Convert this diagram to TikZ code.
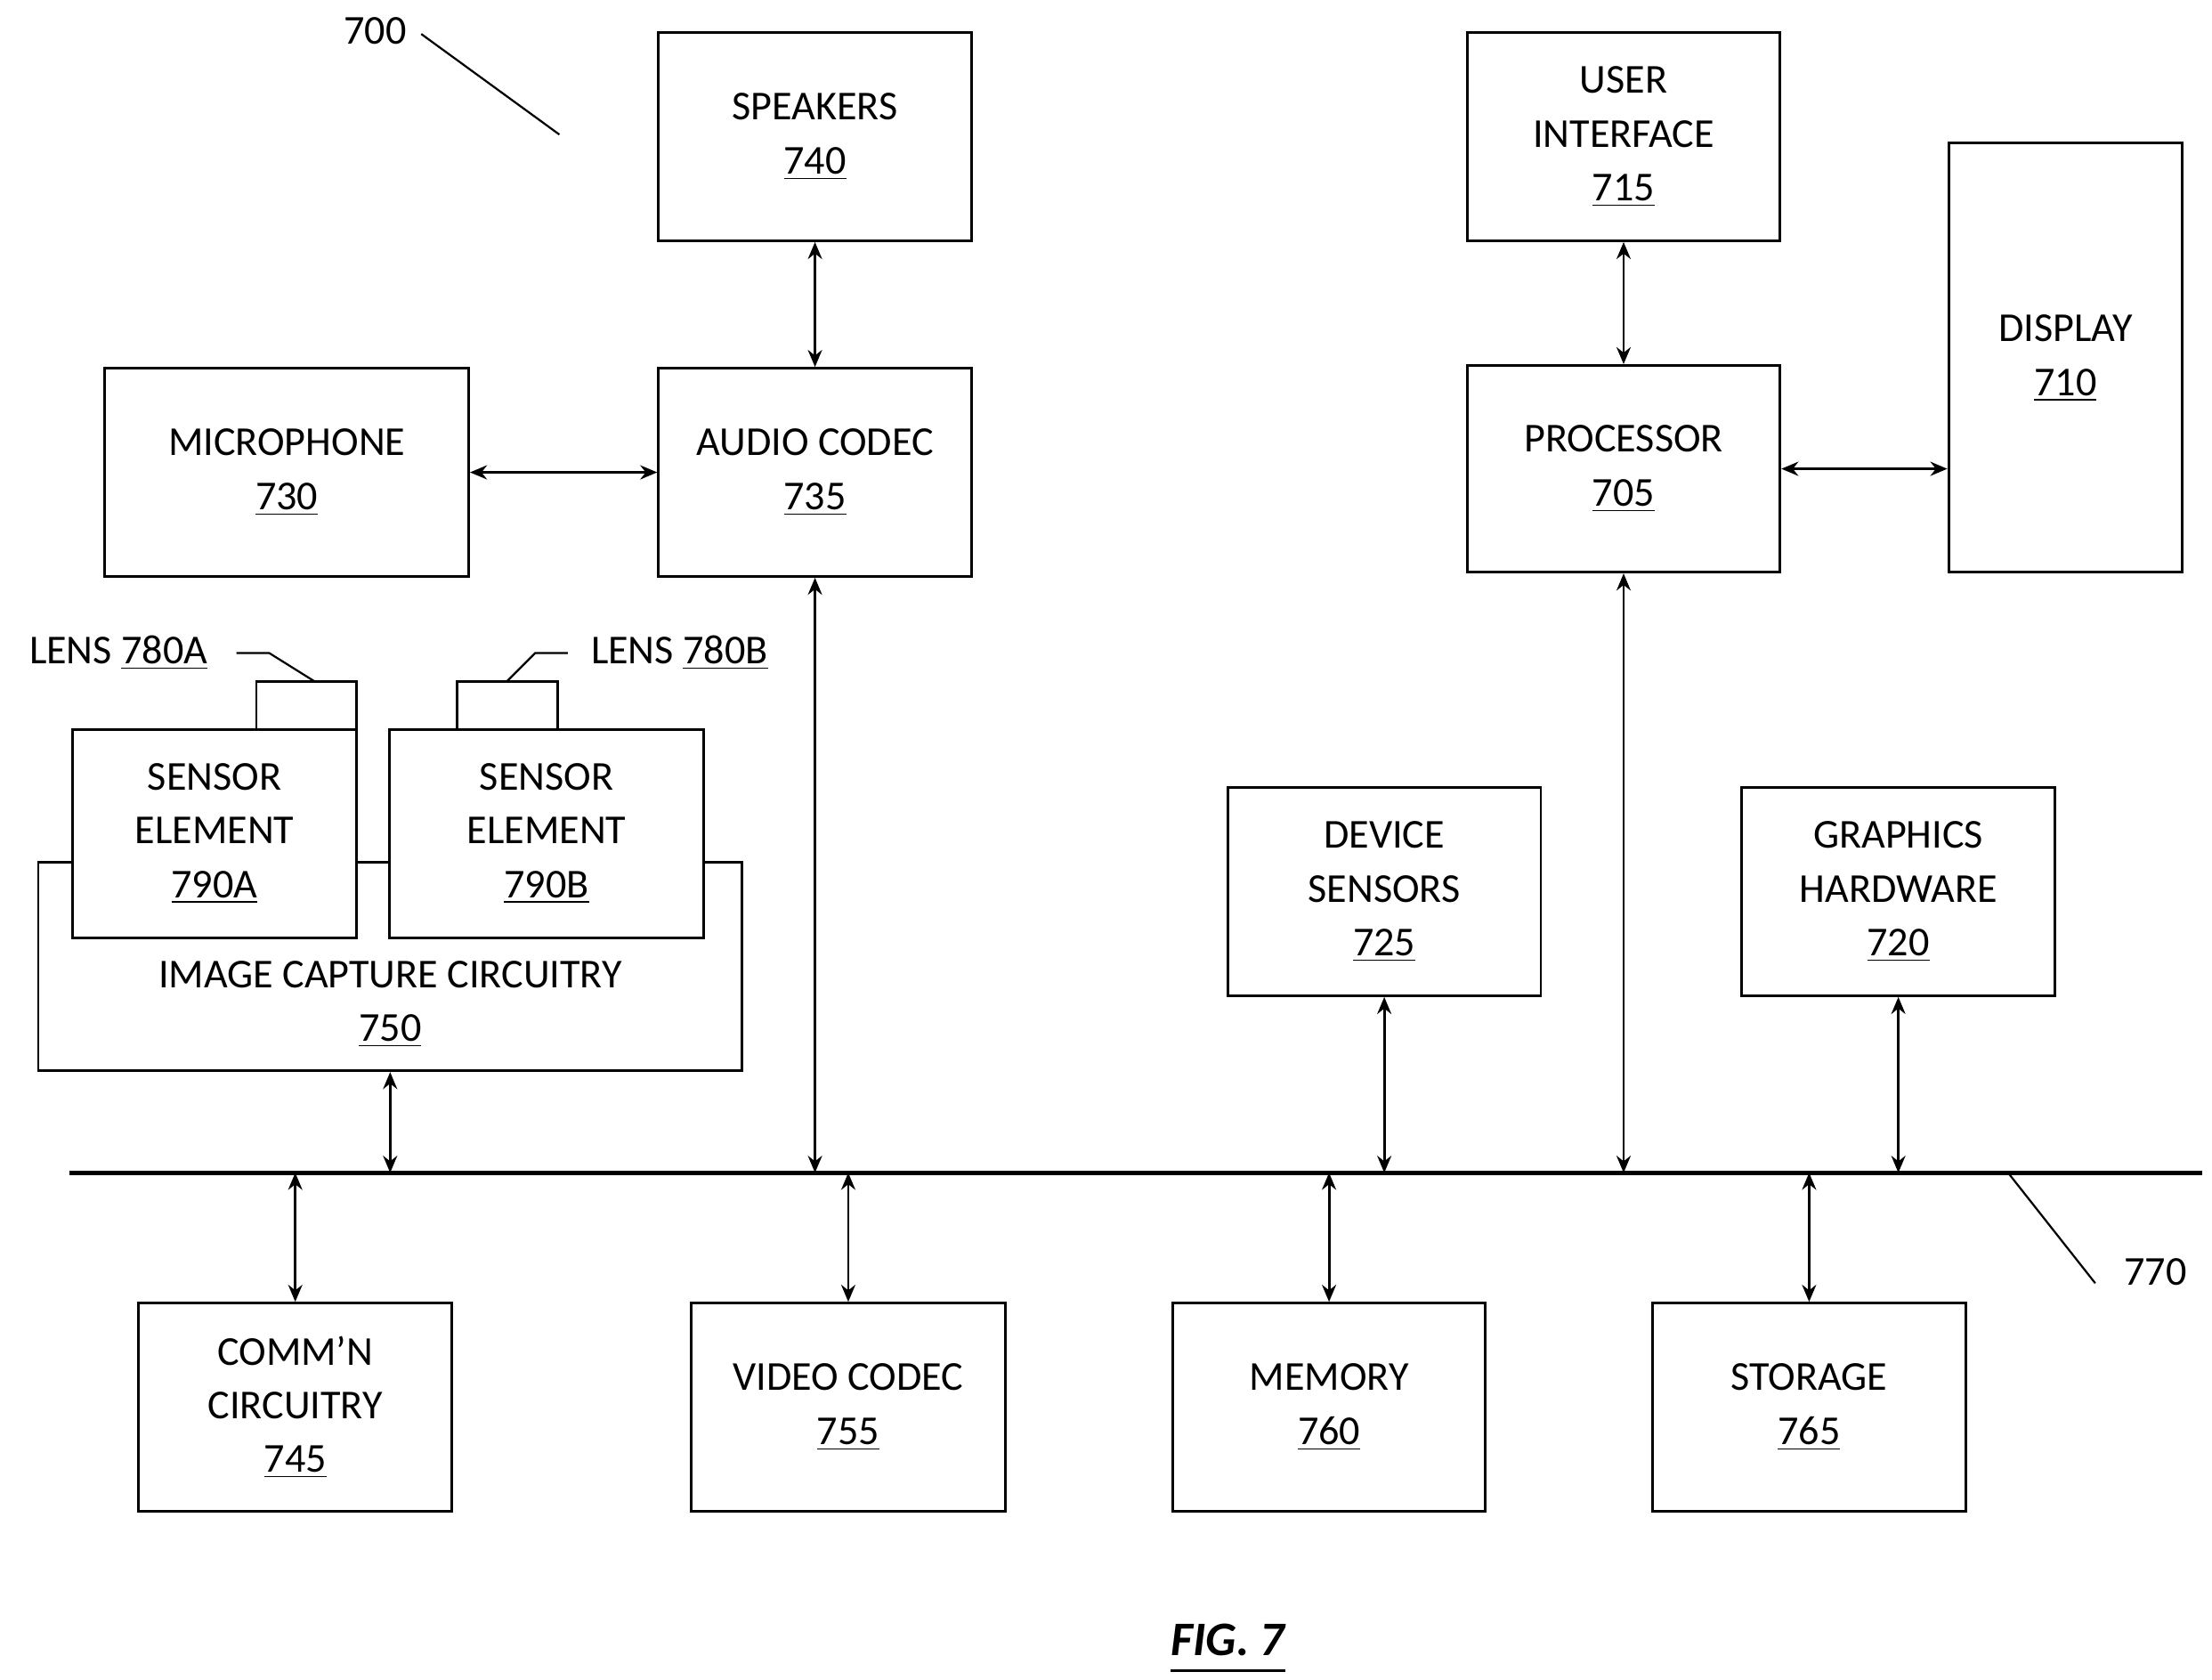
\documentclass[tikz,border=0pt]{standalone}
\usepackage{fontspec}
\setmainfont{Carlito}
\usetikzlibrary{arrows.meta}
\begin{document}
\begin{tikzpicture}[x=0.5pt,y=-0.5pt,
  box/.style={draw,line width=0.9pt,align=center,font=\fontsize{14.5pt}{19pt}\selectfont,inner sep=0pt},
  lab/.style={font=\fontsize{14.5pt}{19pt}\selectfont,inner sep=0pt},
  con/.style={line width=0.9pt,{Stealth[length=6pt,width=5pt]}-{Stealth[length=6pt,width=5pt]}},
  lead/.style={line width=0.7pt}]
\useasboundingbox (0,0) rectangle (1562,1186);
\newcommand{\bx}[6]{\node[box,minimum width=#4*0.5pt-#2*0.5pt,minimum height=#5*0.5pt-#3*0.5pt] (#1) at ({(#2+#4)/2},{(#3+#5)/2}) {#6};}
% image capture outer
\node[box,minimum width=248.5pt,minimum height=73.5pt,fill=white] (img) at (275.5,682.5) {};
\node[lab,align=center] (imgt) at (275.5,709) {IMAGE CAPTURE CIRCUITRY\\\underline{750}};
\bx{lensa}{181}{481}{252}{515}{}
\bx{lensb}{323}{481}{394}{515}{}
\node[box,fill=white,minimum width=100.5pt,minimum height=73.5pt] (sa) at (151.5,588.5) {SENSOR\\ELEMENT\\\underline{790A}};
\node[box,fill=white,minimum width=111pt,minimum height=73.5pt] (sb) at (386,588.5) {SENSOR\\ELEMENT\\\underline{790B}};
\bx{spk}{465}{23}{686}{170}{SPEAKERS\\\underline{740}}
\bx{ui}{1036}{23}{1257}{170}{USER\\INTERFACE\\\underline{715}}
\bx{disp}{1376}{101}{1541}{404}{}
\node[lab,align=center] (dispt) at (1458.5,253) {DISPLAY\\\underline{710}};
\bx{mic}{74}{260}{331}{407}{MICROPHONE\\\underline{730}}
\bx{aud}{465}{260}{686}{407}{AUDIO CODEC\\\underline{735}}
\bx{proc}{1036}{258}{1257}{404}{PROCESSOR\\\underline{705}}
\bx{dev}{867}{556}{1088}{703}{DEVICE\\SENSORS\\\underline{725}}
\bx{gfx}{1230}{556}{1451}{703}{GRAPHICS\\HARDWARE\\\underline{720}}
\bx{comm}{98}{920}{319}{1067}{COMM’N\\CIRCUITRY\\\underline{745}}
\bx{vid}{488}{920}{710}{1067}{VIDEO CODEC\\\underline{755}}
\bx{mem}{828}{920}{1049}{1067}{MEMORY\\\underline{760}}
\bx{sto}{1167}{920}{1388}{1067}{STORAGE\\\underline{765}}
% bus
\coordinate (busL) at (49,828);
\coordinate (busR) at (1555,828);
\draw[line width=1.6pt] (busL) -- (busR);
\draw[con] (spk) -- (aud);
\draw[con] (mic) -- (aud);
\draw[con] (ui) -- (proc);
\draw[con] (proc.east) -- (proc.east -| disp.west);
\draw[con] (aud.south) -- (aud.south |- busL);
\draw[con] (proc.south) -- (proc.south |- busL);
\draw[con] (img.south) -- (img.south |- busL);
\draw[con] (dev.south) -- (dev.south |- busL);
\draw[con] (gfx.south) -- (gfx.south |- busL);
\draw[con] (comm.north) -- (comm.north |- busL);
\draw[con] (vid.north) -- (vid.north |- busL);
\draw[con] (mem.north) -- (mem.north |- busL);
\draw[con] (sto.north) -- (sto.north |- busL);
% labels
\node[lab] (l700) at (265,22) {700};
\coordinate (e700) at (395,95);
\draw[lead] (l700.east) ++(10,2) -- (e700);
\node[lab] (l770) at (1522,898) {770};
\coordinate (s770) at (1418,828);
\draw[lead] (s770) -- ([xshift=-10,yshift=-4]l770.west);
\node[lab,anchor=east] (la) at (147,461) {LENS \underline{780A}};
\draw[lead] ([xshift=10]la.east) -- (190,461) -- (222,481);
\node[lab,anchor=west] (lb) at (417,461) {LENS \underline{780B}};
\draw[lead] ([xshift=-8]lb.west) -- (378,461) -- (358,481);
\node[lab,font=\fontsize{17pt}{20pt}\selectfont\bfseries\itshape] (fig) at (867,1158) {FIG. 7};
\draw[line width=0.9pt] ([yshift=-5]fig.south west) -- ([yshift=-5]fig.south east);
\end{tikzpicture}
\end{document}
